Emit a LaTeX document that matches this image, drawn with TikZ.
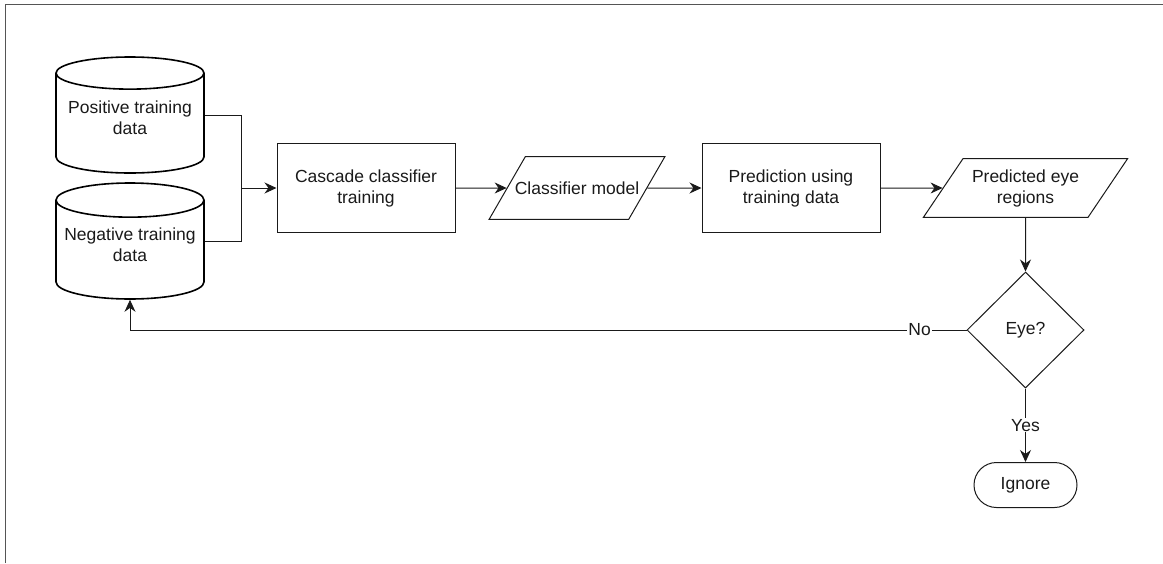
\documentclass[tikz,border=0pt]{standalone}
\usepackage{fontspec}
\setmainfont{Liberation Sans}
\usetikzlibrary{shapes.geometric,shapes.misc,arrows.meta}
\definecolor{fdarkgray}{HTML}{1a1a1a}
\definecolor{fframe}{HTML}{555555}

\begin{document}
\begin{tikzpicture}[x=1pt, y=-1pt,
		every node/.style={font=\fontsize{17.5}{21}\selectfont, align=center, text=fdarkgray},
		store/.style={cylinder, shape border rotate=90, aspect=0.26, draw=black, line width=1.6pt, minimum width=148pt, minimum height=116pt, inner sep=0pt, anchor=shape center},
		process/.style={rectangle, draw=fdarkgray, line width=1pt, minimum width=178pt, minimum height=89pt},
		io/.style={trapezium, draw=fdarkgray, line width=1pt},
		decision/.style={diamond, draw=fdarkgray, line width=1pt, minimum width=117pt, minimum height=116pt, inner sep=0pt},
		terminal/.style={rounded rectangle, draw=fdarkgray, line width=1pt, minimum width=103pt, minimum height=45pt, inner sep=0pt},
		flow/.style={draw=fdarkgray, line width=1pt, -{Stealth[length=12pt, width=11pt]}},
		answer/.style={fill=white, inner sep=1pt}]
		\useasboundingbox (0,0) rectangle (1163,563);
		% frame edges
		\draw[color=fframe, line width=1.5pt] (5.5,563) -- (5.5,4.5) -- (1163,4.5);
		% data stores
		\node[store] (pos) at (130,115) {Positive training\\data\rule[-11pt]{0pt}{0pt}};
		\node[store] (neg) at (130,241) {Negative training\\data\rule[-11pt]{0pt}{0pt}};
		\coordinate (merge) at (241,188);
		% main row
		\node[process] (cascade) at (366,188) {Cascade classifier\\training};
		\node[io, trapezium left angle=60, trapezium right angle=120, inner xsep=-10.6pt, inner ysep=25pt] (model) at (577,188) {Classifier model};
		\node[process] (predict) at (791,188) {Prediction using\\training data};
		\node[io, trapezium left angle=56, trapezium right angle=124, inner xsep=9pt, inner ysep=10.7pt] (regions) at (1025.5,188) {Predicted eye\\regions};
		\node[decision] (eye) at (1025.5,330) {Eye?};
		\node[terminal] (ignore) at (1025.5,485) {Ignore};
		% connectors
		\draw[draw=fdarkgray, line width=1pt] (pos.east |- pos.shape center) -| (merge);
		\draw[draw=fdarkgray, line width=1pt] (neg.east |- neg.shape center) -| (merge);
		\draw[flow] (merge) -- (cascade.west);
		\draw[flow] (cascade.east) -- (model.west);
		\draw[flow] (model.east) -- (predict.west);
		\draw[flow] (predict.east) -- (regions.west);
		\draw[flow] (regions.south) -- (eye.north);
		\draw[flow] (eye.west) -| node[answer, pos=0.028] {No} (neg.south);
		\draw[flow] (eye.south) -- node[answer] {Yes} (ignore.north);
	\end{tikzpicture}
\end{document}
